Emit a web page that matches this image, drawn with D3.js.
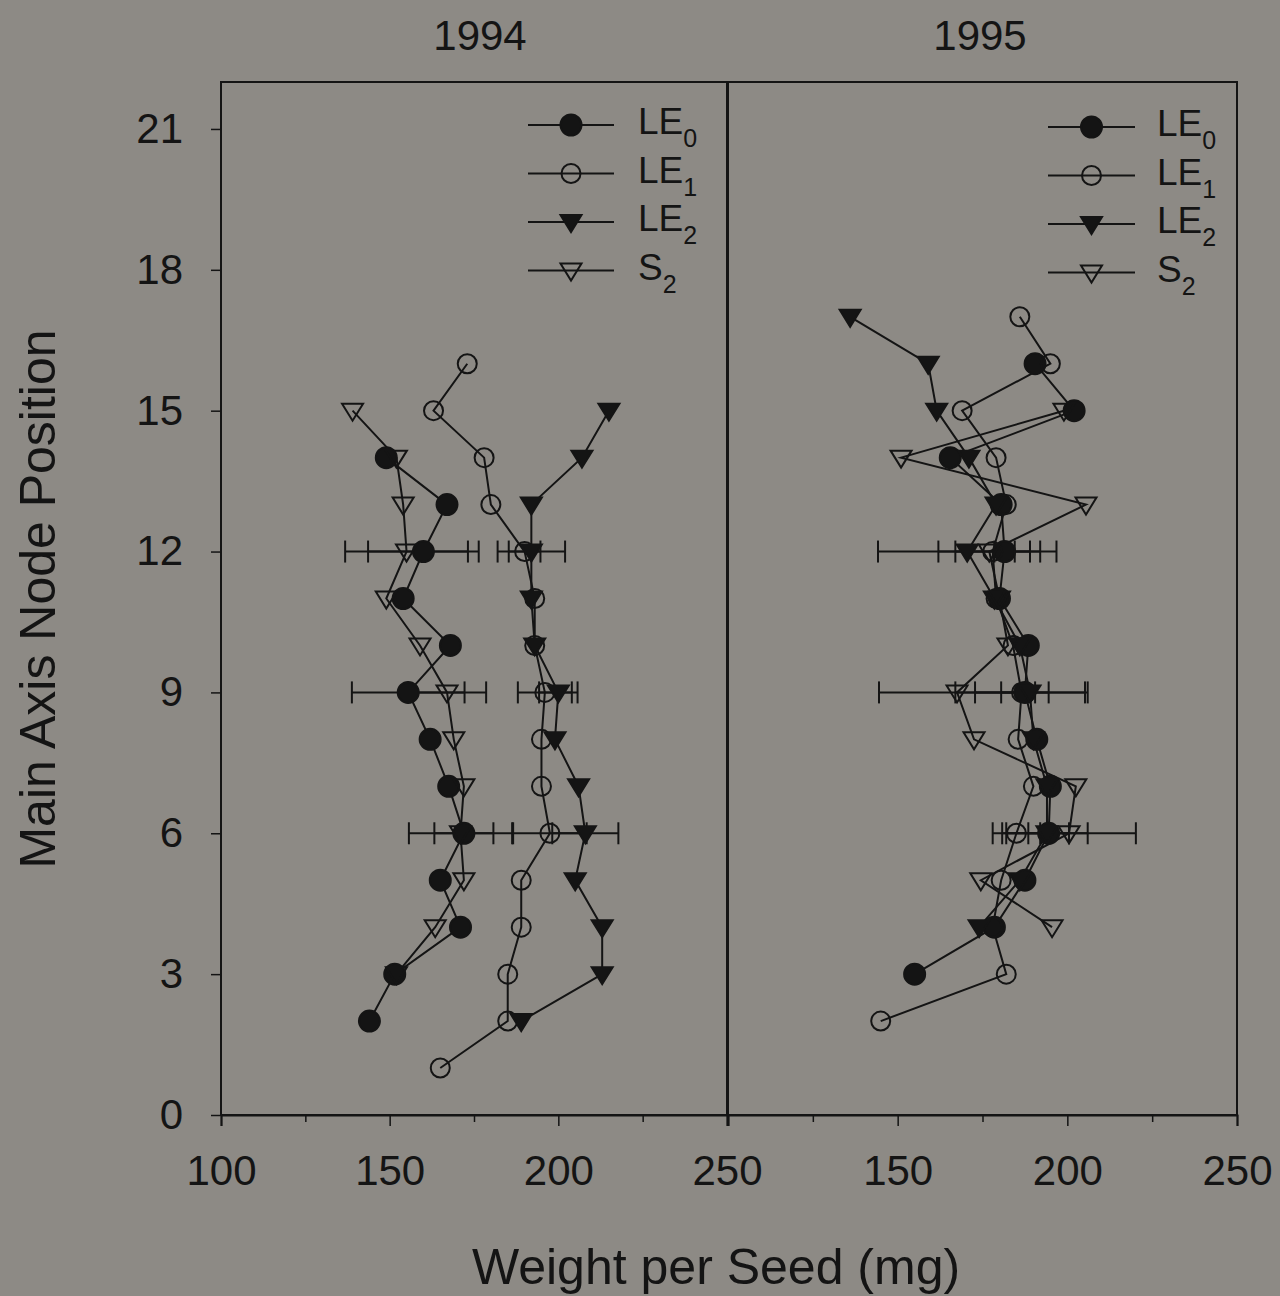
<!DOCTYPE html>
<html><head><meta charset="utf-8">
<script src="https://cdn.jsdelivr.net/npm/d3@7"></script>
<style>body{margin:0;background:#8d8a85;} svg{display:block;}</style>
</head><body><svg id="c" width="1280" height="1296"></svg>
<script>
// ---------- data ----------
const years = ["1994", "1995"];
const seriesNames = ["LE0", "LE1", "LE2", "S2"];
const seriesBase = ["LE", "LE", "LE", "S"];
const seriesSub = ["0", "1", "2", "2"];
const xMajorTicks = [100, 150, 200, 250];
const xMinorTicks = [125, 175, 225];
const yTicks = [0, 3, 6, 9, 12, 15, 18, 21];
const xTitle = "Weight per Seed (mg)";
const yTitle = "Main Axis Node Position";

// 1994
const le0_1994_node = [2, 3, 4, 5, 6, 7, 8, 9, 10, 11, 12, 13, 14];
const le0_1994_wt   = [144, 151.5, 171, 165, 172, 167.5, 162, 155.5, 168, 154, 160, 167, 149];
const le1_1994_node = [1, 2, 3, 4, 5, 6, 7, 8, 9, 10, 11, 12, 13, 14, 15, 16];
const le1_1994_wt   = [165, 185, 185, 189, 189, 197.5, 195, 195, 196, 193, 193, 190, 180, 178, 163, 173];
const le2_1994_node = [2, 3, 4, 5, 6, 7, 8, 9, 10, 11, 12, 13, 14, 15];
const le2_1994_wt   = [189, 213, 213, 205, 208, 206, 199, 200, 193, 192, 192, 192, 207, 215];
const s2_1994_node  = [3, 4, 5, 6, 7, 8, 9, 10, 11, 12, 13, 14, 15];
const s2_1994_wt    = [152, 163.5, 172, 171, 172, 169, 167, 159, 149, 155, 154, 152, 139];

// 1995
const le0_1995_node = [3, 4, 5, 6, 7, 8, 9, 10, 11, 12, 13, 14, 15, 16];
const le0_1995_wt   = [155, 178.5, 187.5, 194.5, 195, 191, 187.5, 188.5, 180, 181.5, 180.5, 165.5, 202, 190.5];
const le1_1995_node = [2, 3, 4, 5, 6, 7, 8, 9, 10, 11, 12, 13, 14, 15, 16, 17];
const le1_1995_wt   = [145, 182, 178, 180.5, 185, 190, 185.5, 186.5, 184, 179, 178, 182, 179, 169, 195, 186];
const le2_1995_node = [4, 5, 6, 7, 8, 9, 10, 11, 12, 13, 14, 15, 16, 17];
const le2_1995_wt   = [174, 186, 194, 194, 190, 189, 186, 178.5, 170.5, 179, 171, 161.5, 159, 136];
const s2_1995_node  = [4, 5, 6, 7, 8, 9, 10, 11, 12, 13, 14, 15];
const s2_1995_wt    = [195.5, 174.5, 200.5, 202.5, 172.5, 167.5, 182.5, 180, 177, 205.5, 151, 199];

// error bars (half-widths, mg) at selected nodes
const err_1994_series = ["LE0", "S2", "LE1", "LE2", "LE0", "S2", "LE1", "LE2", "LE0", "S2", "LE1", "LE2"];
const err_1994_node   = [12, 12, 12, 12, 9, 9, 9, 9, 6, 6, 6, 6];
const err_1994_half   = [16.4, 18.2, 4.7, 10, 16.7, 11.6, 8, 5.7, 8.75, 15.3, 10.9, 9.8];
const err_1995_series = ["LE0", "S2", "LE1", "LE2", "LE0", "S2", "LE1", "LE2", "LE0", "S2", "LE1", "LE2"];
const err_1995_node   = [12, 12, 12, 12, 9, 9, 9, 9, 6, 6, 6, 6];
const err_1995_half   = [3, 15, 11, 26.3, 7, 23, 19.5, 16.2, 6, 19.7, 7, 12];

// ---------- build ----------
const panelsData = [
  { year: years[0],
    series: {LE0: [le0_1994_node, le0_1994_wt], LE1: [le1_1994_node, le1_1994_wt], LE2: [le2_1994_node, le2_1994_wt], S2: [s2_1994_node, s2_1994_wt]},
    err: [err_1994_series, err_1994_node, err_1994_half] },
  { year: years[1],
    series: {LE0: [le0_1995_node, le0_1995_wt], LE1: [le1_1995_node, le1_1995_wt], LE2: [le2_1995_node, le2_1995_wt], S2: [s2_1995_node, s2_1995_wt]},
    err: [err_1995_series, err_1995_node, err_1995_half] }
];

const FONT = "'Liberation Sans', Arial, sans-serif";
const INK = "#141414";
const BG = "#8d8a85";
const svg = d3.select("#c");
svg.append("rect").attr("width", 1280).attr("height", 1296).attr("fill", BG);

const plotTop = 82, plotBottom = 1115;
const panelX = [[221, 727], [728, 1237]];
const titleX = [480, 980];
const y = d3.scaleLinear().domain([0, 22]).range([plotBottom, plotTop]);

const markerStyle = {
  LE0: {shape: "circle", fill: INK},
  LE1: {shape: "circle", fill: "none"},
  LE2: {shape: "tri", fill: INK},
  S2:  {shape: "tri", fill: "none"}
};
function drawMarker(g, sx, sy, name, scale) {
  const st = markerStyle[name];
  const k = scale || 1;
  if (st.shape === "circle") {
    g.append("circle").attr("cx", sx).attr("cy", sy).attr("r", (st.fill === "none" ? 9.5 : 10.5) * k)
      .attr("fill", st.fill).attr("stroke", INK).attr("stroke-width", 2);
  } else {
    const p = d3.path();
    p.moveTo(sx - 10.5 * k, sy - 7 * k); p.lineTo(sx + 10.5 * k, sy - 7 * k); p.lineTo(sx, sy + 10 * k); p.closePath();
    g.append("path").attr("d", p.toString()).attr("fill", st.fill).attr("stroke", INK)
      .attr("stroke-width", 2).attr("stroke-linejoin", "miter");
  }
}

panelsData.forEach((pd, pi) => {
  const [x0, x1] = panelX[pi];
  const x = d3.scaleLinear().domain([100, 250]).range([x0, x1]);
  const g = svg.append("g");

  // frame
  g.append("rect").attr("x", x0).attr("y", plotTop).attr("width", x1 - x0).attr("height", plotBottom - plotTop)
    .attr("fill", "none").attr("stroke", INK).attr("stroke-width", 2);

  // x axis (major + minor)
  const axMaj = d3.axisBottom(x).tickValues(xMajorTicks).tickSize(11).tickPadding(29)
    .tickFormat(d => (pi === 1 && d === 100) ? "" : d3.format("d")(d));
  const gx = g.append("g").attr("transform", `translate(0,${plotBottom})`).call(axMaj);
  gx.select(".domain").attr("stroke", INK).attr("stroke-width", 2);
  gx.selectAll(".tick line").attr("stroke", INK).attr("stroke-width", 1.5);
  gx.selectAll("text").attr("font-family", FONT).attr("font-size", 42).attr("fill", INK);
  const axMin = d3.axisBottom(x).tickValues(xMinorTicks).tickSize(7).tickFormat("");
  const gxm = g.append("g").attr("transform", `translate(0,${plotBottom})`).call(axMin);
  gxm.select(".domain").remove();
  gxm.selectAll(".tick line").attr("stroke", INK).attr("stroke-width", 1.5);

  // y axis only on first panel
  if (pi === 0) {
    const ay = d3.axisLeft(y).tickValues(yTicks).tickSize(10).tickPadding(28);
    const gy = g.append("g").attr("transform", `translate(${x0},0)`).call(ay);
    gy.select(".domain").remove();
    gy.selectAll(".tick line").attr("stroke", INK).attr("stroke-width", 1.5);
    gy.selectAll("text").attr("font-family", FONT).attr("font-size", 42).attr("fill", INK);
  }

  // panel title
  svg.append("text").attr("x", titleX[pi]).attr("y", 50).attr("text-anchor", "middle")
    .attr("font-family", FONT).attr("font-size", 42).attr("fill", INK).text(pd.year);

  // error bars
  const [es, en, eh] = pd.err;
  es.forEach((s, i) => {
    const [nodes, wts] = pd.series[s];
    const c = wts[nodes.indexOf(en[i])];
    const yy = y(en[i]);
    const lo = x(c - eh[i]), hi = x(c + eh[i]);
    g.append("line").attr("x1", lo).attr("x2", hi).attr("y1", yy).attr("y2", yy)
      .attr("stroke", INK).attr("stroke-width", 2);
    [lo, hi].forEach(xx => g.append("line").attr("x1", xx).attr("x2", xx)
      .attr("y1", yy - 11).attr("y2", yy + 11).attr("stroke", INK).attr("stroke-width", 2));
  });

  // series lines + markers
  seriesNames.forEach(s => {
    const [nodes, wts] = pd.series[s];
    const pts = nodes.map((n, i) => [x(wts[i]), y(n)]);
    g.append("path").attr("d", d3.line()(pts)).attr("fill", "none")
      .attr("stroke", INK).attr("stroke-width", 2);
  });
  seriesNames.forEach(s => {
    const [nodes, wts] = pd.series[s];
    nodes.forEach((n, i) => drawMarker(g, x(wts[i]), y(n), s));
  });

  // legend
  const lg = svg.append("g");
  const lx0 = pi === 0 ? 528 : 1048, lx1 = pi === 0 ? 614 : 1135, tx = pi === 0 ? 638 : 1157;
  const ly0 = pi === 0 ? 125 : 127;
  seriesNames.forEach((s, i) => {
    const ly = ly0 + i * 48.5;
    lg.append("line").attr("x1", lx0).attr("x2", lx1).attr("y1", ly).attr("y2", ly)
      .attr("stroke", INK).attr("stroke-width", 2);
    drawMarker(lg, (lx0 + lx1) / 2, ly, s);
    const t = lg.append("text").attr("x", tx).attr("y", ly + 9).attr("font-family", FONT)
      .attr("font-size", 37).attr("fill", INK);
    t.append("tspan").text(seriesBase[i]);
    t.append("tspan").attr("dy", 13).attr("font-size", 25).text(seriesSub[i]);
  });
});

// axis titles
svg.append("text").attr("x", 716).attr("y", 1284).attr("text-anchor", "middle")
  .attr("font-family", FONT).attr("font-size", 50).attr("fill", INK).text(xTitle);
svg.append("text").attr("transform", "translate(55,599) rotate(-90)").attr("text-anchor", "middle")
  .attr("font-family", FONT).attr("font-size", 50).attr("fill", INK).text(yTitle);
</script>
</body></html>
